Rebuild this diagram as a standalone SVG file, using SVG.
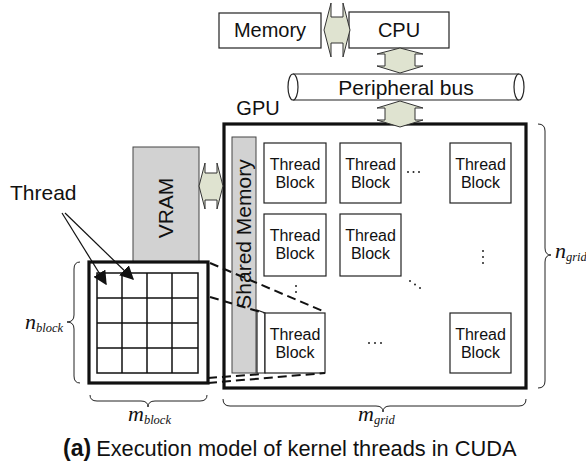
<svg xmlns="http://www.w3.org/2000/svg" width="586" height="466" viewBox="0 0 586 466">
<defs>
<style>
.box{fill:#fff;stroke:#222;stroke-width:1.2}
.gray{fill:#d2d2d2;stroke:#444;stroke-width:1}
.arr{fill:#dfe3d0;stroke:#333;stroke-width:1}
.t{font-family:"Liberation Sans",Arial,sans-serif;fill:#111;text-anchor:middle}
.tb{font-size:16px}
.m{font-family:"Liberation Serif","Times New Roman",serif;font-style:italic;fill:#111}
.br{fill:none;stroke:#222;stroke-width:1}
.dash{fill:none;stroke:#111;stroke-width:2;stroke-dasharray:9 5}
.grid{fill:none;stroke:#111;stroke-width:1.5}
.dot{fill:#222}
</style>
<marker id="ah" viewBox="0 0 10 10" refX="9" refY="5" markerWidth="14" markerHeight="14" markerUnits="userSpaceOnUse" orient="auto"><path d="M0,0 L10,5 L0,10 Z" fill="#111"/></marker>
</defs>
<rect width="586" height="466" fill="#fff"/>

<g id="memory"><rect class="box" x="219" y="13" width="102" height="35"/><text class="t" x="270" y="37" font-size="20">Memory</text></g>
<g id="cpu"><rect class="box" x="349" y="12" width="100" height="36"/><text class="t" x="399" y="37" font-size="20">CPU</text></g>
<g id="bus">
<path class="box" d="M293,74 L519,74 M293,100 L519,100"/>
<ellipse class="box" cx="293" cy="87" rx="5" ry="13"/>
<ellipse class="box" cx="519" cy="87" rx="5" ry="13"/>
<text class="t" x="406" y="95" font-size="21">Peripheral bus</text>
</g>
<g id="gpu">
<text class="t" x="258" y="115" font-size="20">GPU</text>
<rect x="224" y="124" width="302" height="264" fill="#fff" stroke="#111" stroke-width="3.2"/>
</g>
<g id="shared-memory"><rect class="gray" x="232" y="137" width="24" height="236"/><text class="t" x="251" y="234" font-size="21" transform="rotate(-90 251 234)">Shared Memory</text></g>
<g id="vram"><rect class="gray" x="133" y="147" width="66" height="115"/><text class="t" x="173" y="208" font-size="21" transform="rotate(-90 173 208)">VRAM</text></g>

<g id="tb11"><rect class="box" x="264" y="143" width="62" height="60"/><text class="t tb" x="295" y="170">Thread</text><text class="t tb" x="295" y="188">Block</text></g>
<g id="tb12"><rect class="box" x="340" y="143" width="61" height="60"/><text class="t tb" x="370.5" y="170">Thread</text><text class="t tb" x="370.5" y="188">Block</text></g>
<g id="tb13"><rect class="box" x="450" y="143" width="61" height="60"/><text class="t tb" x="480.5" y="170">Thread</text><text class="t tb" x="480.5" y="188">Block</text></g>
<g id="tb21"><rect class="box" x="264" y="214" width="62" height="62"/><text class="t tb" x="295" y="241">Thread</text><text class="t tb" x="295" y="259">Block</text></g>
<g id="tb22"><rect class="box" x="340" y="214" width="61" height="62"/><text class="t tb" x="370.5" y="241">Thread</text><text class="t tb" x="370.5" y="259">Block</text></g>
<g id="tb31"><path class="box" d="M257,310 L265,313 L265,373 L257,373 Z"/><rect class="box" x="265" y="313" width="60" height="60"/><text class="t tb" x="295" y="340">Thread</text><text class="t tb" x="295" y="358">Block</text></g>
<g id="tb33"><rect class="box" x="450" y="313" width="61" height="60"/><text class="t tb" x="480.5" y="340">Thread</text><text class="t tb" x="480.5" y="358">Block</text></g>

<g id="ellipses">
<circle class="dot" cx="408" cy="172" r="1"/><circle class="dot" cx="413.5" cy="172" r="1"/><circle class="dot" cx="419" cy="172" r="1"/>
<circle class="dot" cx="483" cy="251" r="1"/><circle class="dot" cx="483" cy="257" r="1"/><circle class="dot" cx="483" cy="263" r="1"/>
<circle class="dot" cx="410" cy="281" r="1"/><circle class="dot" cx="415" cy="284.5" r="1"/><circle class="dot" cx="420" cy="288" r="1"/>
<circle class="dot" cx="296" cy="286" r="1"/><circle class="dot" cx="296" cy="292" r="1"/>
<circle class="dot" cx="369" cy="343" r="1"/><circle class="dot" cx="375" cy="343" r="1"/><circle class="dot" cx="381" cy="343" r="1"/>
</g>

<g id="block-detail">
<rect x="89" y="262" width="119" height="121" fill="#fff" stroke="#111" stroke-width="3.2"/>
<rect class="grid" x="97" y="273" width="101" height="100"/>
<path class="grid" d="M122,273 V373 M147,273 V373 M172,273 V373 M97,298 H198 M97,323 H198 M97,348 H198"/>
</g>

<g id="thread-label"><text x="10" y="200" font-family="Liberation Sans,Arial,sans-serif" font-size="21" fill="#111">Thread</text></g>

<g id="connectors">
<path class="arr" d="M324,30 L331,3 L331,17 L343,17 L343,3 L350,30 L343,57 L343,43 L331,43 L331,57 Z"/>
<path class="arr" d="M400,48 L423,54 L415,54 L415,66 L423,66 L400,73 L377,66 L385,66 L385,54 L377,54 Z"/>
<path class="arr" d="M400,101 L423,108 L415,108 L415,120 L423,120 L400,127 L377,120 L385,120 L385,108 L377,108 Z"/>
<path class="arr" d="M199,186 L205,163 L205,173 L217,173 L217,163 L223,186 L217,209 L217,200 L205,200 L205,209 Z"/>
<line x1="62" y1="213" x2="106" y2="284" stroke="#111" stroke-width="1.2" marker-end="url(#ah)"/>
<line x1="65" y1="213" x2="133" y2="279" stroke="#111" stroke-width="1.2" marker-end="url(#ah)"/>
<path class="dash" d="M210,263 L325,312"/>
<path class="dash" d="M210,297 L264,313"/>
<path class="dash" d="M208,378 L263,374"/>
<path class="dash" d="M208,383 L325,373"/>
</g>

<g id="braces">
<path class="br" d="M80,262 Q74,262 74,269 L74,315 Q74,322 67,322 Q74,322 74,329 L74,376 Q74,383 80,383"/>
<path class="br" d="M90,395 Q90,401 97,401 L141,401 Q148,401 148,407 Q148,401 155,401 L200,401 Q207,401 207,395"/>
<path class="br" d="M223,399 Q223,406 230,406 L376,406 Q383,406 383,412 Q383,406 390,406 L519,406 Q526,406 526,399"/>
<path class="br" d="M538,124 Q545,124 545,131 L545,248 Q545,255 551,255 Q545,255 545,262 L545,381 Q545,388 538,388"/>
</g>

<g id="dim-labels">
<text class="m" x="25" y="329" font-size="22">n<tspan font-size="12.5" dy="3">block</tspan></text>
<text class="m" x="128" y="421" font-size="22">m<tspan font-size="12.5" dy="3">block</tspan></text>
<text class="m" x="358" y="421" font-size="22">m<tspan font-size="12.5" dy="3">grid</tspan></text>
<text class="m" x="555" y="258" font-size="22">n<tspan font-size="12.5" dy="3">grid</tspan></text>
</g>

<g id="caption"><text x="63" y="456" font-family="Liberation Sans,Arial,sans-serif" fill="#111"><tspan font-size="23" font-weight="bold">(a)</tspan><tspan font-size="21.8" dx="5">Execution model of kernel threads in CUDA</tspan></text></g>
</svg>
